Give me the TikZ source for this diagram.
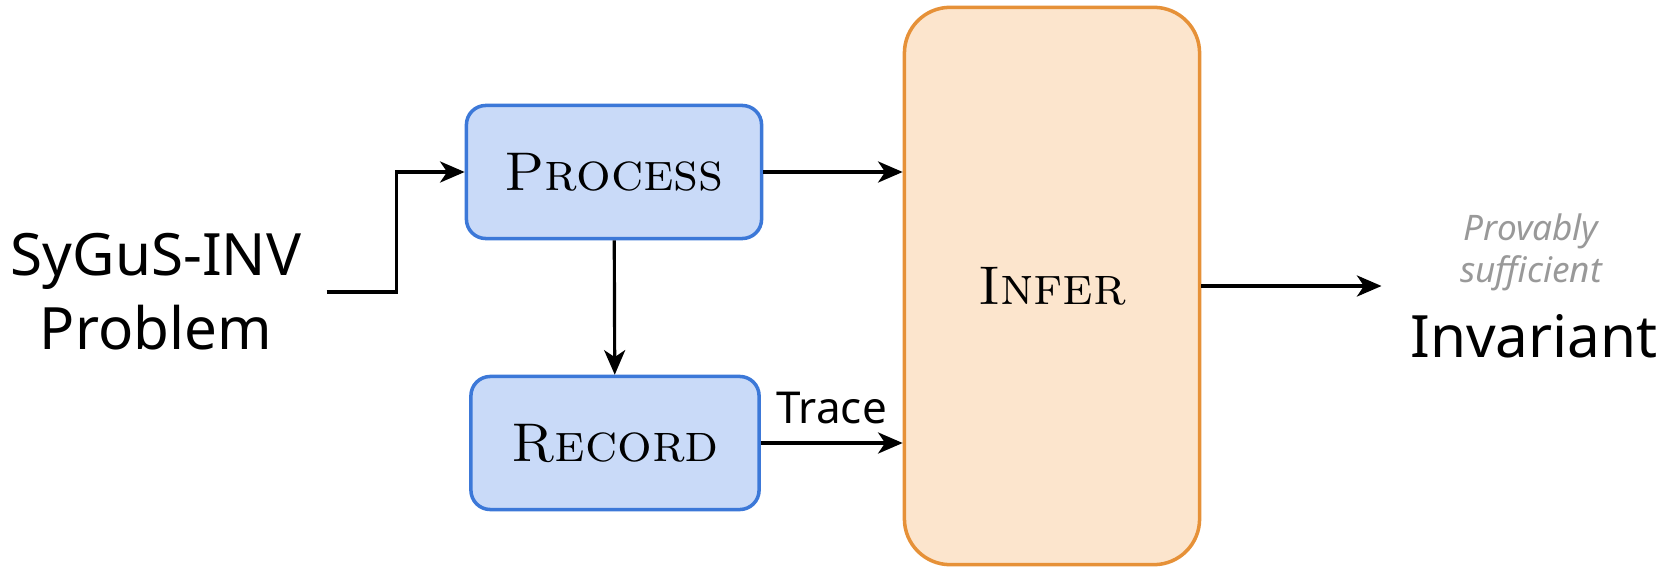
\documentclass[tikz,border=0pt]{standalone}
\usepackage{fontspec}
\setsansfont{Noto Sans}
\usetikzlibrary{arrows.meta}

\definecolor{stepfill}{HTML}{C9DAF8}
\definecolor{stepline}{HTML}{3C78D8}
\definecolor{inferfill}{HTML}{FCE5CD}
\definecolor{inferline}{HTML}{E69138}
\definecolor{notegray}{HTML}{999999}

\begin{document}
\begin{tikzpicture}[x=0.01cm,y=-0.01cm,
  stepbox/.style={draw=stepline,fill=stepfill,line width=1pt,rounded corners=5.5pt,
    minimum width=2.95cm,minimum height=1.33cm,font=\fontsize{15.5}{18}\selectfont\scshape},
  arr/.style={-{Stealth[length=7pt,width=6pt,inset=2pt]},line width=0.9pt},
  sans/.style={font=\sffamily\fontsize{16.6}{21}\selectfont}]
      \useasboundingbox (0,0) rectangle (1667,573);
      \node [stepbox] (process) at (614,172) {Process};
      \node [stepbox,minimum width=2.88cm] (record) at (615,443) {Record};
      \node [stepbox,draw=inferline,fill=inferfill,rounded corners=13pt,
        minimum width=2.95cm,minimum height=5.57cm] (infer) at (1052,286) {Infer};
      \node [sans,align=center,inner xsep=7pt] (problem) at (156,292) {SyGuS-INV\\Problem};
      \node [sans,inner xsep=8pt] (inv) at (1534,336) {Invariant};
      \node [font=\sffamily\itshape\fontsize{10}{12}\selectfont,text=notegray,align=center]
        (note) at (1531,252) {Provably\\sufficient};
      % connectors
      \draw [arr] (problem.east) -- ++(70,0) |- (process.west);
      \draw [arr] (process) -- (process -| infer.west);
      \draw [arr] (process) -- (record);
      \draw [arr] (record) -- node[above,font=\sffamily\fontsize{12.5}{15}\selectfont,inner sep=5pt] {Trace} (record -| infer.west);
      \draw [arr] (infer) -- (infer -| inv.west);
\end{tikzpicture}
\end{document}
